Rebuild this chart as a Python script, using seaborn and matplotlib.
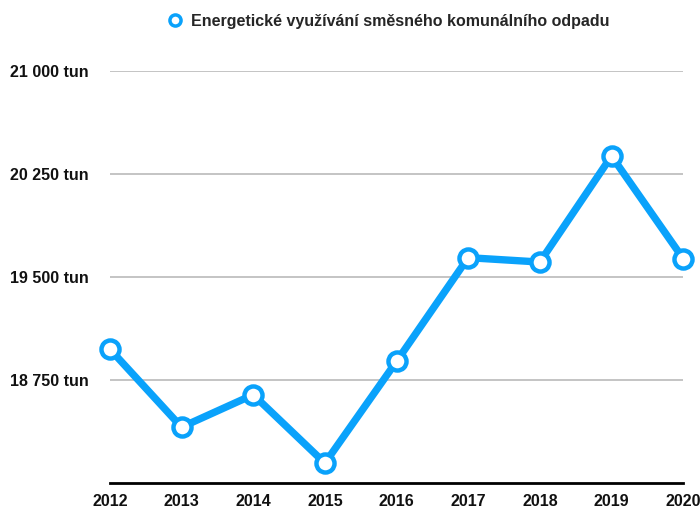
import matplotlib
matplotlib.use("Agg")
import matplotlib.pyplot as plt
import seaborn as sns
import pandas as pd
from matplotlib.lines import Line2D

years = [2012, 2013, 2014, 2015, 2016, 2017, 2018, 2019, 2020]
values = [18975, 18407, 18643, 18145, 18886, 19641, 19609, 20381, 19634]
series_name = "Energetické využívání směsného komunálního odpadu"
y_ticks = [18750, 19500, 20250, 21000]
y_labels = ["18 750 tun", "19 500 tun", "20 250 tun", "21 000 tun"]

df = pd.DataFrame({"rok": years, "hodnota": values})

sns.set_theme(style="white")
plt.rcParams["font.family"] = ["Liberation Sans", "DejaVu Sans"]

color = "#0aa2fb"
fig = plt.figure(figsize=(7, 5.09), dpi=100)
ax = fig.add_axes([0.157, 0.051, 0.819, 0.8095])

sns.lineplot(data=df, x="rok", y="hodnota", ax=ax, color=color, linewidth=5.3,
             marker="o", markersize=13, markerfacecolor="white",
             markeredgecolor=color, markeredgewidth=3.2, clip_on=False, zorder=5)

ax.set_xlim(2012, 2020)
ax.set_ylim(18000, 21000)
ax.set_yticks(y_ticks)
ax.set_yticklabels(y_labels)
ax.set_xticks(years)
ax.set_xticklabels([str(y) for y in years])
ax.set_xlabel("")
ax.set_ylabel("")

for t in y_ticks:
    ax.axhline(t, color="#c4c4c4", linewidth=1.4, zorder=1)

for s in ["left", "right", "top"]:
    ax.spines[s].set_visible(False)
ax.spines["bottom"].set_color("black")
ax.spines["bottom"].set_linewidth(2)
ax.spines["bottom"].set_zorder(2)
ax.tick_params(axis="both", length=0, labelsize=11.5, colors="#111111")
ax.tick_params(axis="y", pad=15)
ax.tick_params(axis="x", pad=8)
for lbl in ax.get_xticklabels() + ax.get_yticklabels():
    lbl.set_fontweight("bold")

handle = Line2D([], [], color=color, linestyle="none", marker="o", markersize=8,
                markerfacecolor="white", markeredgecolor=color, markeredgewidth=2.5)
fig.legend([handle], [series_name], loc="center", bbox_to_anchor=(0.555, 0.958),
           frameon=False, prop={"weight": "bold", "size": 11.5}, handletextpad=0.5,
           handlelength=1.0)

fig.savefig("out.png", dpi=100)
